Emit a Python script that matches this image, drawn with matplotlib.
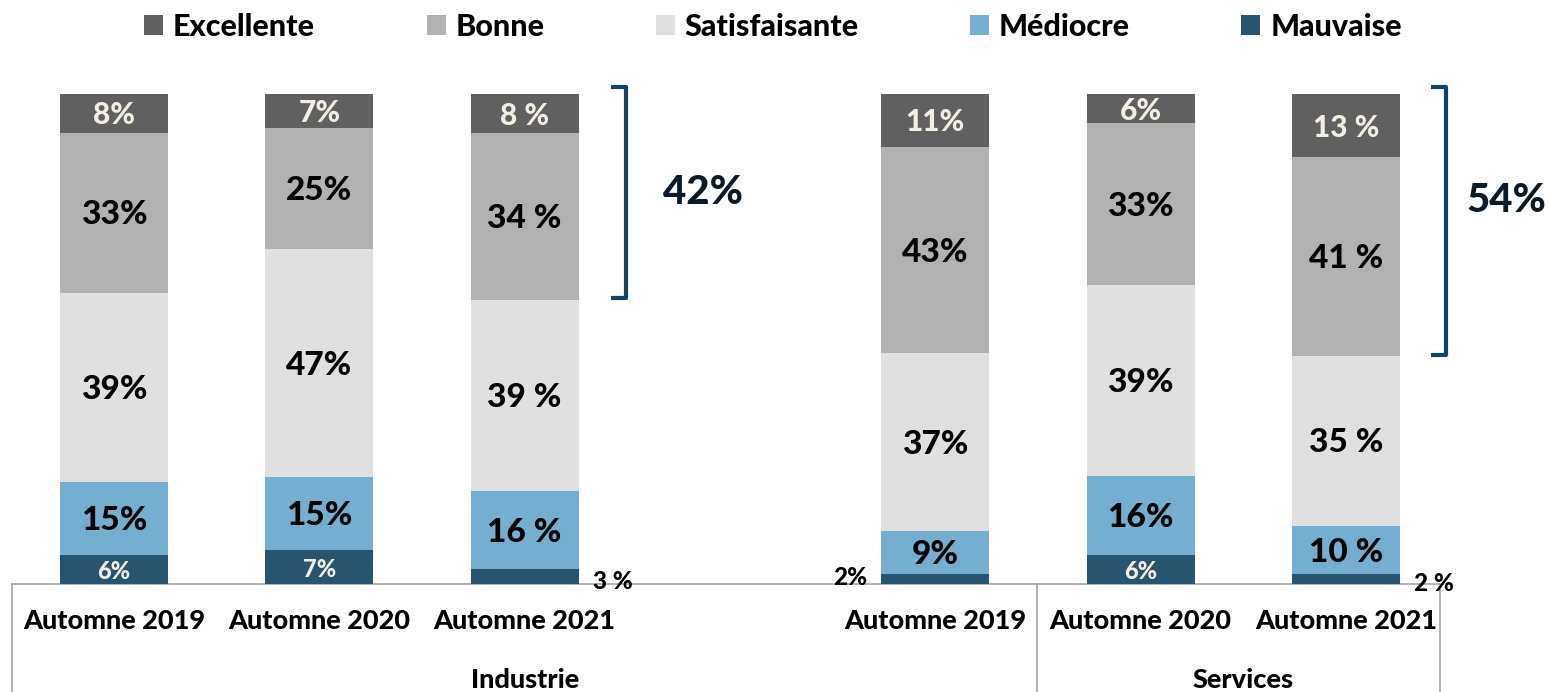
import matplotlib
matplotlib.use("Agg")
import matplotlib.pyplot as plt
from matplotlib.patches import Patch
import numpy as np

plt.rcParams['font.family'] = ['Lato', 'DejaVu Sans']
W_ = 'black'
plt.rcParams['font.weight'] = W_

# ---------------- data ----------------
periods = ["Automne 2019", "Automne 2020", "Automne 2021",
           "Automne 2019", "Automne 2020", "Automne 2021"]
groups = ["Industrie", "Services"]
series = ["Excellente", "Bonne", "Satisfaisante", "Médiocre", "Mauvaise"]

excellente = [8, 7, 8, 11, 6, 13]
bonne = [33, 25, 34, 43, 33, 41]
satisfaisante = [39, 47, 39, 37, 39, 35]
mediocre = [15, 15, 16, 9, 16, 10]
mauvaise = [6, 7, 3, 2, 6, 2]

lab_excellente = ["8%", "7%", "8 %", "11%", "6%", "13 %"]
lab_bonne = ["33%", "25%", "34 %", "43%", "33%", "41 %"]
lab_satisfaisante = ["39%", "47%", "39 %", "37%", "39%", "35 %"]
lab_mediocre = ["15%", "15%", "16 %", "9%", "16%", "10 %"]
lab_mauvaise = ["6%", "7%", "3 %", "2%", "6%", "2 %"]

bracket_labels = ["42%", "54%"]

colors = ["#606060", "#b2b2b2", "#e0e0e0", "#74aed0", "#27556f"]
label_colors = ["#f2efe2", "black", "black", "black", "#f2efe2"]

# ---------------- layout ----------------
W, H = 1550, 692
fig = plt.figure(figsize=(W / 100, H / 100), dpi=100)
ax = fig.add_axes([0, 0, 1, 1])

x0_px, step_px = 114, 205.33
base_px, top_px = 584, 94
ppu = (base_px - top_px) / 100.0

def px2x(p):
    return (p - x0_px) / step_px

def py2y(p):
    return (base_px - p) / ppu

ax.set_xlim(px2x(0), px2x(W))
ax.set_ylim(py2y(H), py2y(0))
ax.axis("off")

positions = np.array([0, 1, 2, 4, 5, 6], dtype=float)
width = 108 / step_px

# bottom to top order
stack = [mauvaise, mediocre, satisfaisante, bonne, excellente]
stack_labels = [lab_mauvaise, lab_mediocre, lab_satisfaisante, lab_bonne, lab_excellente]
stack_colors = colors[::-1]
stack_lcolors = label_colors[::-1]
stack_fs = [17, 24, 24, 24, 21.5]

data = np.array(stack, dtype=float)
totals = data.sum(axis=0)
norm = data / totals * 100
dy = 2 / ppu  # small downward nudge for inside labels

bottom = np.zeros(len(positions))
for k in range(len(stack)):
    vals = norm[k]
    ax.bar(positions, vals, width=width, bottom=bottom, color=stack_colors[k],
           edgecolor="none", zorder=2)
    for i, (p, v, b) in enumerate(zip(positions, vals, bottom)):
        lab = stack_labels[k][i]
        raw = stack[k][i]
        if k == 0 and raw <= 3:
            # outside label
            if i == 3:
                ax.text(p - width / 2 - 14 / step_px, b + v / 2 + 0.4, lab,
                        ha="right", va="center", fontsize=17.5, color="black",
                        fontweight=W_, zorder=3)
            else:
                ax.text(p + width / 2 + 14 / step_px, b + v / 2 - 0.9, lab,
                        ha="left", va="center", fontsize=17.5, color="black",
                        fontweight=W_, zorder=3)
            continue
        ax.text(p, b + v / 2 - dy, lab, ha="center", va="center", fontsize=stack_fs[k],
                color=stack_lcolors[k], fontweight=W_, zorder=3)
    bottom = bottom + vals

# category axis lines
axis_col = "#a6a6a6"
ax.plot([px2x(12), px2x(1440)], [0, 0], color=axis_col, lw=1.2, zorder=1, clip_on=False)
for xp in [12, 1037, 1440]:
    ax.plot([px2x(xp), px2x(xp)], [0, py2y(H)], color=axis_col, lw=1.2, zorder=1,
            clip_on=False)

for p, lab in zip(positions, periods):
    ax.text(p, py2y(621), lab, ha="center", va="center", fontsize=19.5,
            fontweight=W_, color="black")

ax.text(px2x(525), py2y(680), groups[0], ha="center", va="center", fontsize=19.5,
        fontweight=W_, color="black")
ax.text(px2x(1243), py2y(680), groups[1], ha="center", va="center", fontsize=19.5,
        fontweight=W_, color="black")

# brackets
br_col = "#0e4466"
for (xb, yt, yb, xl, yl), lab in zip([(626, 87, 298, 703, 193), (1446, 87, 355, 1506, 200)],
                                     bracket_labels):
    hook = 15
    ax.plot([px2x(xb - hook), px2x(xb), px2x(xb), px2x(xb - hook)],
            [py2y(yt), py2y(yt), py2y(yb), py2y(yb)],
            color=br_col, lw=3, solid_joinstyle="round", solid_capstyle="butt",
            zorder=3, clip_on=False)
    ax.text(px2x(xl), py2y(yl), lab, ha="center", va="center", fontsize=29,
            fontweight=W_, color="#0b1a26")

# legend
handles = [Patch(facecolor=c, edgecolor="none") for c in colors]
leg = fig.legend(handles, series, loc="center", bbox_to_anchor=(0.4987, 1 - 27 / H),
                 ncol=5, frameon=False, prop={"size": 22, "weight": W_},
                 handlelength=0.62, handleheight=0.62, handletextpad=0.32,
                 columnspacing=3.65)

fig.savefig("out.png", dpi=100)
